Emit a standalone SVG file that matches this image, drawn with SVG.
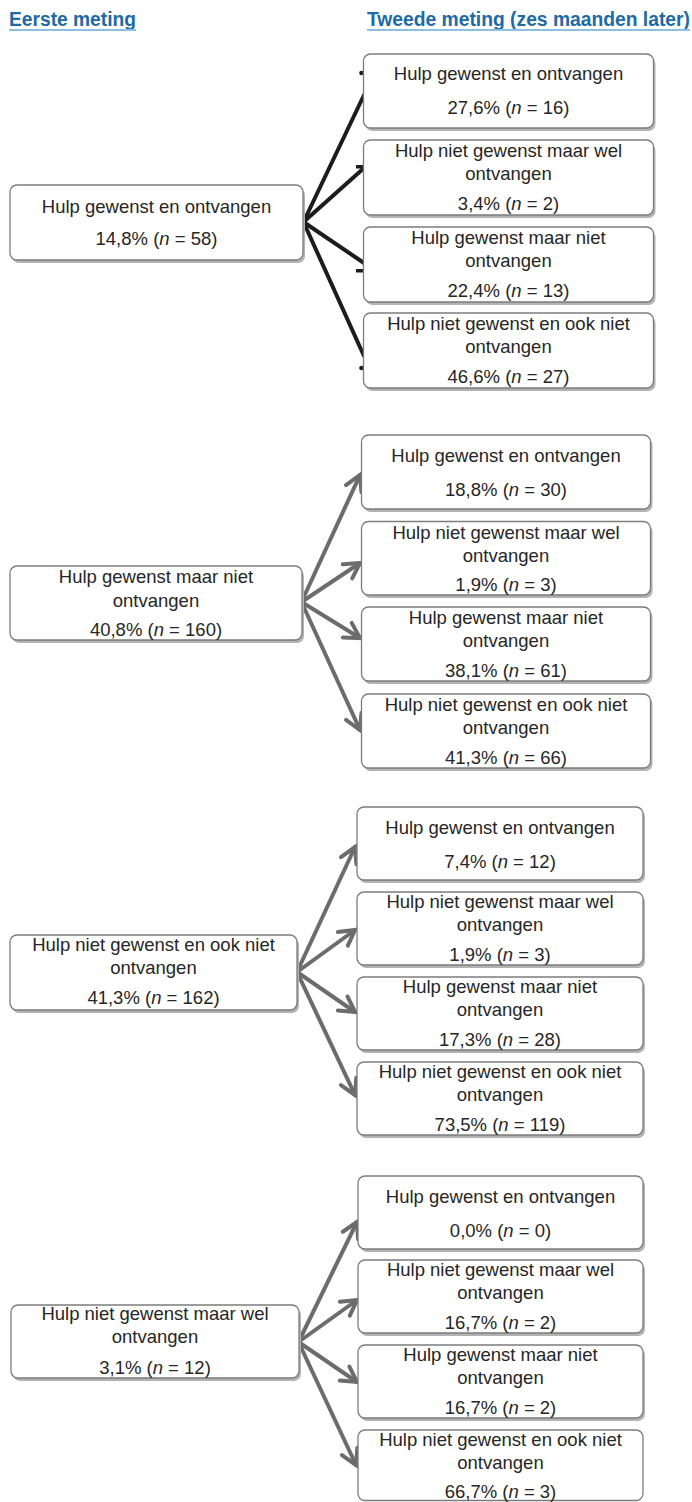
<svg xmlns="http://www.w3.org/2000/svg" width="692" height="1502" viewBox="0 0 692 1502">
<style>
.hdr{font-family:"Liberation Sans",Arial,sans-serif;font-weight:bold;font-size:19.5px;fill:#1d6aa5}
.ul{stroke:#8cc0e2;stroke-width:2}
.box{fill:#fff;stroke:#7c7c7c;stroke-width:1.3}
.sh{fill:#b3b3b3}
.t{font-family:"Liberation Sans",Arial,sans-serif;font-size:18.5px;fill:#262626;text-anchor:middle}
.i{font-style:italic}
.blk{stroke:#1c1c1c;stroke-width:4;fill:none;stroke-linecap:round}
.gry{stroke:#6c6c6c;stroke-width:4;fill:none;stroke-linecap:round;marker-end:url(#ah)}
</style>
<defs>
<marker id="ah" markerUnits="userSpaceOnUse" viewBox="0 0 20 20" markerWidth="20" markerHeight="20" refX="17" refY="10" orient="auto" overflow="visible">
<path d="M2,1.5 L17,10 L2,18.5" fill="none" stroke="#6c6c6c" stroke-width="4" stroke-linecap="round" stroke-linejoin="miter"/>
</marker>
</defs>
<rect width="692" height="1502" fill="#fff"/>
<g id="header">
<text class="hdr" x="9" y="26" textLength="127" lengthAdjust="spacingAndGlyphs">Eerste meting</text>
<line class="ul" x1="9" y1="30" x2="136" y2="30"/>
<text class="hdr" x="367" y="26" textLength="323" lengthAdjust="spacingAndGlyphs">Tweede meting (zes maanden later)</text>
<line class="ul" x1="367" y1="30" x2="690" y2="30"/>
</g>
<g id="connectors">
<line class="blk" x1="303.5" y1="222" x2="364" y2="95"/>
<line class="blk" x1="303.5" y1="222" x2="364" y2="168"/>
<line class="blk" x1="303.5" y1="222" x2="364" y2="263"/>
<line class="blk" x1="303.5" y1="222" x2="364" y2="356"/>
<circle cx="361.5" cy="73" r="2.3" fill="#1c1c1c"/>
<rect x="356" y="165" width="7" height="3.5" fill="#1c1c1c"/>
<rect x="356" y="269" width="7" height="3.5" fill="#1c1c1c"/>
<circle cx="361.5" cy="368" r="2.3" fill="#1c1c1c"/>
<line class="gry" x1="301.5" y1="602" x2="360" y2="475"/>
<line class="gry" x1="301.5" y1="602" x2="360" y2="563"/>
<line class="gry" x1="301.5" y1="602" x2="360" y2="638"/>
<line class="gry" x1="301.5" y1="602" x2="360" y2="730"/>
<line class="gry" x1="297" y1="972" x2="355" y2="847"/>
<line class="gry" x1="297" y1="972" x2="355" y2="930"/>
<line class="gry" x1="297" y1="972" x2="355" y2="1012"/>
<line class="gry" x1="297" y1="972" x2="355" y2="1095"/>
<line class="gry" x1="298.5" y1="1342" x2="357" y2="1222"/>
<line class="gry" x1="298.5" y1="1342" x2="357" y2="1300"/>
<line class="gry" x1="298.5" y1="1342" x2="357" y2="1382"/>
<line class="gry" x1="298.5" y1="1342" x2="356" y2="1465"/>
</g>

<!-- Group 1 -->
<g id="g1-src">
<rect class="sh" x="12" y="188" width="293" height="75" rx="7"/>
<rect class="box" x="10" y="185" width="293" height="75" rx="7"/>
<text class="t" x="156.5" y="213">Hulp gewenst en ontvangen</text>
<text class="t" x="156.5" y="245">14,8% (<tspan class="i">n</tspan> = 58)</text>
</g>
<g id="g1-t1">
<rect class="sh" x="365.5" y="57" width="290" height="74" rx="7"/>
<rect class="box" x="363.5" y="54" width="290" height="74" rx="7"/>
<text class="t" x="508.5" y="80">Hulp gewenst en ontvangen</text>
<text class="t" x="508.5" y="114">27,6% (<tspan class="i">n</tspan> = 16)</text>
</g>
<g id="g1-t2">
<rect class="sh" x="365.5" y="143" width="290" height="75" rx="7"/>
<rect class="box" x="363.5" y="140" width="290" height="75" rx="7"/>
<text class="t" x="508.5" y="157">Hulp niet gewenst maar wel</text>
<text class="t" x="508.5" y="180">ontvangen</text>
<text class="t" x="508.5" y="210">3,4% (<tspan class="i">n</tspan> = 2)</text>
</g>
<g id="g1-t3">
<rect class="sh" x="365.5" y="230" width="290" height="75" rx="7"/>
<rect class="box" x="363.5" y="227" width="290" height="75" rx="7"/>
<text class="t" x="508.5" y="244">Hulp gewenst maar niet</text>
<text class="t" x="508.5" y="267">ontvangen</text>
<text class="t" x="508.5" y="297">22,4% (<tspan class="i">n</tspan> = 13)</text>
</g>
<g id="g1-t4">
<rect class="sh" x="365.5" y="316" width="290" height="75" rx="7"/>
<rect class="box" x="363.5" y="313" width="290" height="75" rx="7"/>
<text class="t" x="508.5" y="330">Hulp niet gewenst en ook niet</text>
<text class="t" x="508.5" y="353">ontvangen</text>
<text class="t" x="508.5" y="383">46,6% (<tspan class="i">n</tspan> = 27)</text>
</g>

<!-- Group 2 -->
<g id="g2-src">
<rect class="sh" x="12" y="569" width="292" height="74" rx="7"/>
<rect class="box" x="10" y="566" width="292" height="74" rx="7"/>
<text class="t" x="156" y="583">Hulp gewenst maar niet</text>
<text class="t" x="156" y="607">ontvangen</text>
<text class="t" x="156" y="636">40,8% (<tspan class="i">n</tspan> = 160)</text>
</g>
<g id="g2-t1">
<rect class="sh" x="363.5" y="438" width="289" height="74" rx="7"/>
<rect class="box" x="361.5" y="435" width="289" height="74" rx="7"/>
<text class="t" x="506" y="462">Hulp gewenst en ontvangen</text>
<text class="t" x="506" y="496">18,8% (<tspan class="i">n</tspan> = 30)</text>
</g>
<g id="g2-t2">
<rect class="sh" x="363.5" y="524.5" width="289" height="73.5" rx="7"/>
<rect class="box" x="361.5" y="521.5" width="289" height="73.5" rx="7"/>
<text class="t" x="506" y="538.5">Hulp niet gewenst maar wel</text>
<text class="t" x="506" y="561.5">ontvangen</text>
<text class="t" x="506" y="591">1,9% (<tspan class="i">n</tspan> = 3)</text>
</g>
<g id="g2-t3">
<rect class="sh" x="363.5" y="610" width="289" height="74" rx="7"/>
<rect class="box" x="361.5" y="607" width="289" height="74" rx="7"/>
<text class="t" x="506" y="624">Hulp gewenst maar niet</text>
<text class="t" x="506" y="647">ontvangen</text>
<text class="t" x="506" y="677">38,1% (<tspan class="i">n</tspan> = 61)</text>
</g>
<g id="g2-t4">
<rect class="sh" x="363.5" y="697" width="289" height="74" rx="7"/>
<rect class="box" x="361.5" y="694" width="289" height="74" rx="7"/>
<text class="t" x="506" y="711">Hulp niet gewenst en ook niet</text>
<text class="t" x="506" y="734">ontvangen</text>
<text class="t" x="506" y="764">41,3% (<tspan class="i">n</tspan> = 66)</text>
</g>

<!-- Group 3 -->
<g id="g3-src">
<rect class="sh" x="12" y="938" width="287" height="75" rx="7"/>
<rect class="box" x="10" y="935" width="287" height="75" rx="7"/>
<text class="t" x="153.5" y="951">Hulp niet gewenst en ook niet</text>
<text class="t" x="153.5" y="974">ontvangen</text>
<text class="t" x="153.5" y="1004">41,3% (<tspan class="i">n</tspan> = 162)</text>
</g>
<g id="g3-t1">
<rect class="sh" x="359" y="810" width="286" height="73" rx="7"/>
<rect class="box" x="357" y="807" width="286" height="73" rx="7"/>
<text class="t" x="500" y="834">Hulp gewenst en ontvangen</text>
<text class="t" x="500" y="868">7,4% (<tspan class="i">n</tspan> = 12)</text>
</g>
<g id="g3-t2">
<rect class="sh" x="359" y="895" width="286" height="73" rx="7"/>
<rect class="box" x="357" y="892" width="286" height="73" rx="7"/>
<text class="t" x="500" y="908">Hulp niet gewenst maar wel</text>
<text class="t" x="500" y="931">ontvangen</text>
<text class="t" x="500" y="961">1,9% (<tspan class="i">n</tspan> = 3)</text>
</g>
<g id="g3-t3">
<rect class="sh" x="359" y="980" width="286" height="73" rx="7"/>
<rect class="box" x="357" y="977" width="286" height="73" rx="7"/>
<text class="t" x="500" y="993">Hulp gewenst maar niet</text>
<text class="t" x="500" y="1016">ontvangen</text>
<text class="t" x="500" y="1046">17,3% (<tspan class="i">n</tspan> = 28)</text>
</g>
<g id="g3-t4">
<rect class="sh" x="359" y="1065" width="286" height="73" rx="7"/>
<rect class="box" x="357" y="1062" width="286" height="73" rx="7"/>
<text class="t" x="500" y="1078">Hulp niet gewenst en ook niet</text>
<text class="t" x="500" y="1101">ontvangen</text>
<text class="t" x="500" y="1131">73,5% (<tspan class="i">n</tspan> = 119)</text>
</g>

<!-- Group 4 -->
<g id="g4-src">
<rect class="sh" x="13" y="1308" width="288" height="73" rx="7"/>
<rect class="box" x="11" y="1305" width="288" height="73" rx="7"/>
<text class="t" x="155" y="1320">Hulp niet gewenst maar wel</text>
<text class="t" x="155" y="1343">ontvangen</text>
<text class="t" x="155" y="1374">3,1% (<tspan class="i">n</tspan> = 12)</text>
</g>
<g id="g4-t1">
<rect class="sh" x="360" y="1179" width="285" height="73" rx="7"/>
<rect class="box" x="358" y="1176" width="285" height="73" rx="7"/>
<text class="t" x="500.5" y="1203">Hulp gewenst en ontvangen</text>
<text class="t" x="500.5" y="1237">0,0% (<tspan class="i">n</tspan> = 0)</text>
</g>
<g id="g4-t2">
<rect class="sh" x="360" y="1263" width="285" height="73" rx="7"/>
<rect class="box" x="358" y="1260" width="285" height="73" rx="7"/>
<text class="t" x="500.5" y="1276">Hulp niet gewenst maar wel</text>
<text class="t" x="500.5" y="1299">ontvangen</text>
<text class="t" x="500.5" y="1329">16,7% (<tspan class="i">n</tspan> = 2)</text>
</g>
<g id="g4-t3">
<rect class="sh" x="360" y="1348" width="285" height="73" rx="7"/>
<rect class="box" x="358" y="1345" width="285" height="73" rx="7"/>
<text class="t" x="500.5" y="1361">Hulp gewenst maar niet</text>
<text class="t" x="500.5" y="1384">ontvangen</text>
<text class="t" x="500.5" y="1414">16,7% (<tspan class="i">n</tspan> = 2)</text>
</g>
<g id="g4-t4">
<rect class="box" x="358" y="1430" width="285" height="70.5" rx="7"/>
<text class="t" x="500.5" y="1446">Hulp niet gewenst en ook niet</text>
<text class="t" x="500.5" y="1469">ontvangen</text>
<text class="t" x="500.5" y="1498">66,7% (<tspan class="i">n</tspan> = 3)</text>
</g>
</svg>
